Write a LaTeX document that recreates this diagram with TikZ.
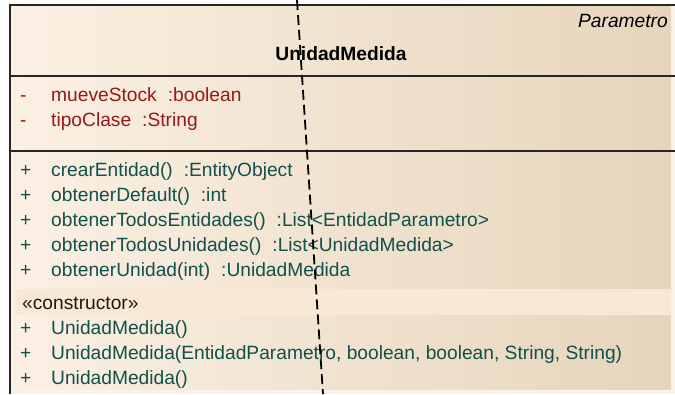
\documentclass[tikz,border=0pt]{standalone}
\usepackage{fontspec}
\setmainfont{Liberation Sans}
\definecolor{attrred}{RGB}{150,25,25}
\definecolor{opteal}{RGB}{18,80,76}
\definecolor{boxlight}{RGB}{251,240,227}
\definecolor{boxdark}{RGB}{230,213,188}
\definecolor{ctorband}{RGB}{249,233,212}
\definecolor{boxedge}{RGB}{251,243,232}
\begin{document}
\begin{tikzpicture}[x=1pt,y=-1pt,
  member/.style={anchor=base west,inner sep=0pt,font=\fontsize{19.2}{19.2}\selectfont},
  attr/.style={member,text=attrred},
  oper/.style={member,text=opteal},
  sepline/.style={line width=1.8pt,draw=black!85}]
  \useasboundingbox (0,0) rectangle (675,394);

  % class box
  \fill[boxedge] (10,5) rectangle (675,394);
  \shade[left color=boxlight,right color=boxdark] (11,6) rectangle (671,389);
  \fill[ctorband] (16,289) rectangle (671,315);
  \draw[sepline] (675,5) -- (10,5) -- (10,394);
  \draw[sepline] (10,76) -- (675,76);
  \draw[sepline] (10,151) -- (675,151);

  % header
  \node[member,anchor=base east,font=\itshape\fontsize{19.2}{19.2}\selectfont] (super) at (668,27) {Parametro};
  \node[member,anchor=base,font=\bfseries\fontsize{19.2}{19.2}\selectfont] (cname) at (341,60) {UnidadMedida};

  % attributes
  \foreach \i/\txt in {1/{mueveStock\hspace{11pt}:boolean},
                       2/{tipoClase\hspace{11pt}:String}} {
    \node[attr] (avis\i) at (20,76+25*\i) {-};
    \node[attr] (attr\i) at (51,76+25*\i) {\txt};
  }

  % operations
  \foreach \i/\txt in {1/{crearEntidad()\hspace{11pt}:EntityObject},
                       2/{obtenerDefault()\hspace{11pt}:int},
                       3/{obtenerTodosEntidades()\hspace{11pt}:List<EntidadParametro>},
                       4/{obtenerTodosUnidades()\hspace{11pt}:List<UnidadMedida>},
                       5/{obtenerUnidad(int)\hspace{11pt}:UnidadMedida}} {
    \node[oper] (ovis\i) at (20,151+25*\i) {+};
    \node[oper] (op\i) at (51,151+25*\i) {\txt};
  }

  % constructors
  \node[member,text=black!90] (ctor) at (22,309) {«constructor»};
  \foreach \i/\txt in {1/{UnidadMedida()},
                       2/{UnidadMedida(EntidadParametro, boolean, boolean, String, String)},
                       3/{UnidadMedida()}} {
    \node[oper] (cvis\i) at (20,309+25*\i) {+};
    \node[oper] (ctor\i) at (51,309+25*\i) {\txt};
  }

  % dashed link crossing the box
  \coordinate (dtop) at (297,0);
  \coordinate (dbot) at (323,394);
  \draw[line width=1.8pt,dash pattern=on 10pt off 5pt] (dtop) -- (dbot);
\end{tikzpicture}
\end{document}
